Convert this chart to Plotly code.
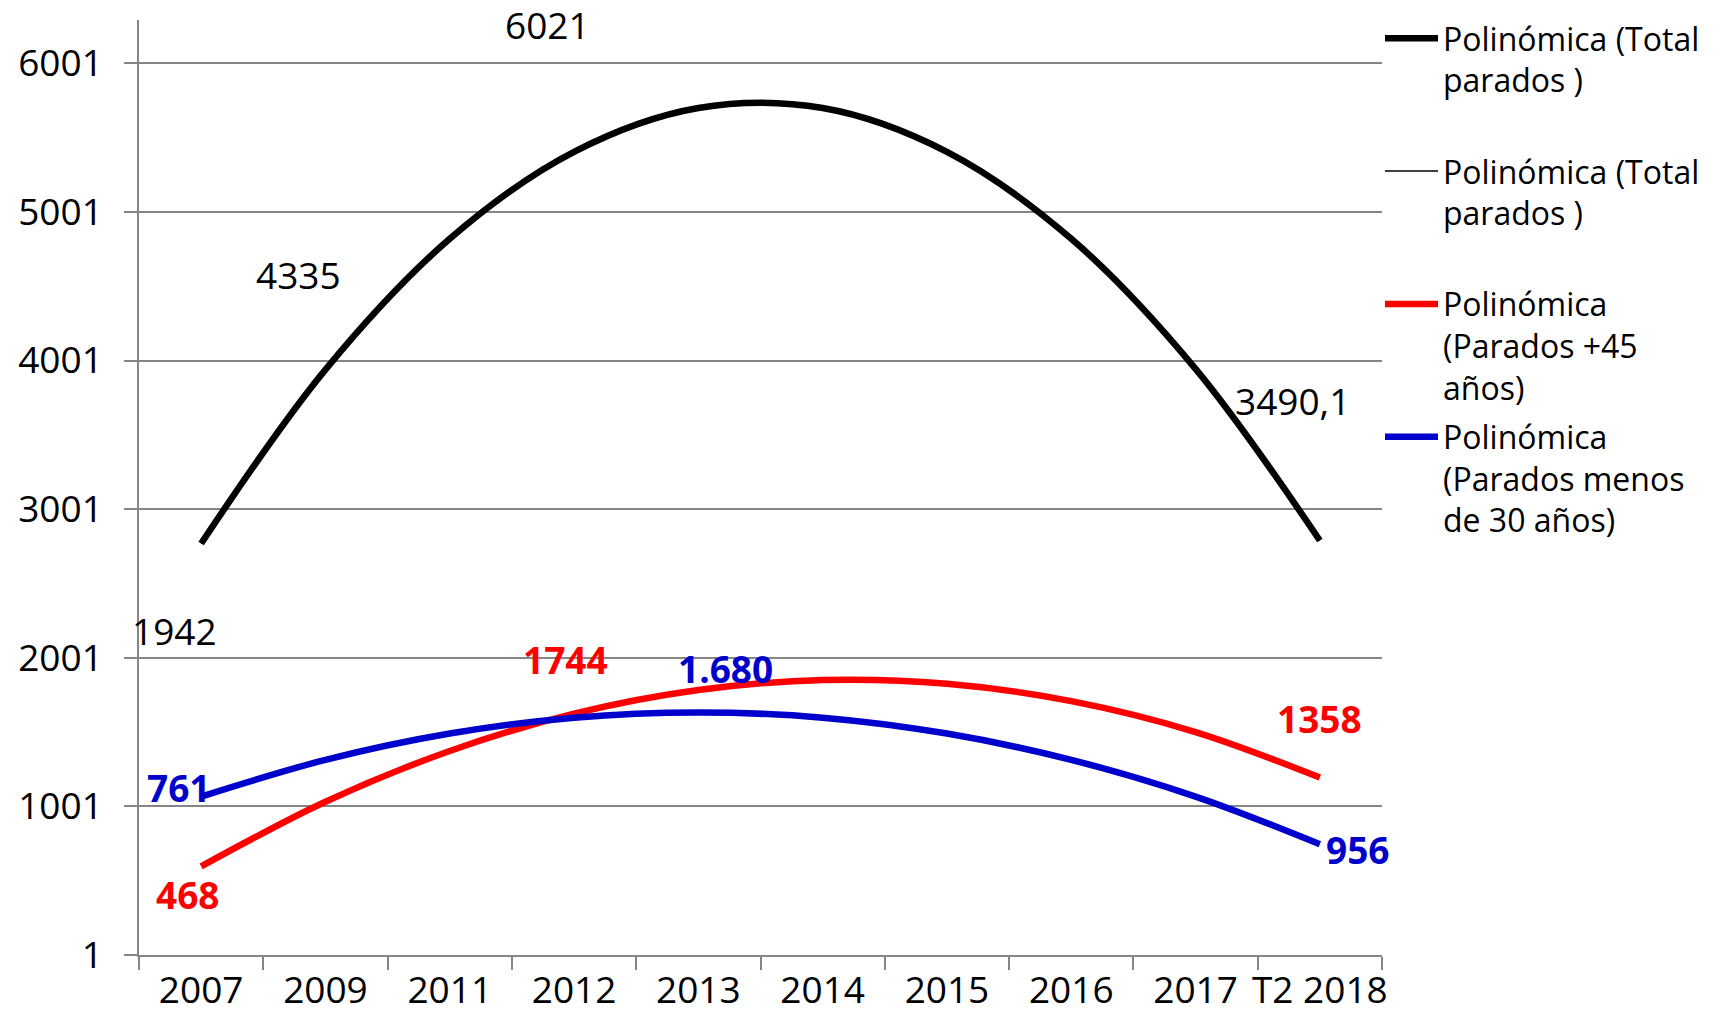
import plotly.graph_objects as go

categories = ["2007", "2009", "2011", "2012", "2013", "2014", "2015", "2016", "2017", "T2 2018"]

# polynomial trendlines
trend_total = [2770, 3940, 4820, 5405, 5700, 5700, 5405, 4820, 3945, 2790]
trend_mas45 = [597, 1032, 1374, 1625, 1784, 1851, 1826, 1709, 1501, 1195]
trend_menos30 = [1067, 1314, 1491, 1598, 1633, 1598, 1491, 1314, 1067, 746]

# data labels that are shown (the series markers themselves are hidden)
total_x = ["2007", "2009", "2012", "T2 2018"]
total_y = [1942, 4335, 6021, 3490.1]
total_txt = ["1942", "4335", "6021", "3490,1"]

mas45_x = ["2007", "2012", "T2 2018"]
mas45_y = [468, 1744, 1358]
mas45_txt = ["468", "1744", "1358"]

menos30_x = ["2007", "2013", "T2 2018"]
menos30_y = [761, 1680, 956]
menos30_txt = ["761", "1.680", "956"]

y_ticks = [1, 1001, 2001, 3001, 4001, 5001, 6001]

FONT = "Open Sans"
GRID = "#868686"
RED = "#ff0000"
BLUE = "#0000cc"

fig = go.Figure()

fig.add_trace(go.Scatter(x=categories, y=trend_total, mode="lines",
                         line=dict(color="black", width=6.5, shape="spline"),
                         name="Polinómica (Total<br>parados )<br> ", legendgroup="a",
                         hoverinfo="skip"))
fig.add_trace(go.Scatter(x=categories, y=trend_total, mode="lines",
                         line=dict(color="black", width=1.5, shape="spline"),
                         name="Polinómica (Total<br>parados )<br> ", legendgroup="b",
                         hoverinfo="skip"))
fig.add_trace(go.Scatter(x=categories, y=trend_mas45, mode="lines",
                         line=dict(color=RED, width=6.5, shape="spline"),
                         name="Polinómica<br>(Parados +45<br>años)", legendgroup="c",
                         hoverinfo="skip"))
fig.add_trace(go.Scatter(x=categories, y=trend_menos30, mode="lines",
                         line=dict(color=BLUE, width=6.5, shape="spline"),
                         name="Polinómica<br>(Parados menos<br>de 30 años)", legendgroup="d",
                         hoverinfo="skip"))

# label offsets (pixels) - placed by hand in the original
total_shift = [(-27, 36), (-27, 36), (-27, 36), (-27, 36)]
mas45_shift = [(-14, -9), (-9, 36), (0, 35)]
menos30_shift = [(-23, 55), (27, 37), (38, -36)]

for xs, ys, ts, sh, col, bold in [
    (total_x, total_y, total_txt, total_shift, "black", False),
    (mas45_x, mas45_y, mas45_txt, mas45_shift, RED, True),
    (menos30_x, menos30_y, menos30_txt, menos30_shift, BLUE, True),
]:
    for i in range(len(xs)):
        txt = "<b>" + ts[i] + "</b>" if bold else ts[i]
        # category axis: use the category index so "2007" isn't read as a number
        fig.add_annotation(x=categories.index(xs[i]), y=ys[i], text=txt, showarrow=False,
                           xshift=sh[i][0], yshift=sh[i][1],
                           font=dict(family=FONT, size=37, color=col))

fig.update_layout(
    width=1714, height=1017,
    margin=dict(l=139, r=332, t=20, b=62, autoexpand=False),
    paper_bgcolor="white", plot_bgcolor="white",
    font=dict(family=FONT, size=37, color="black"),
    legend=dict(x=1380 / 1714, xref="container", xanchor="left",
                y=1 - 11 / 1017, yref="container", yanchor="top",
                font=dict(family=FONT, size=32, color="black"),
                valign="top", bgcolor="rgba(0,0,0,0)", tracegroupgap=5,
                itemwidth=53, maxheight=1000),
    xaxis=dict(type="category", categoryorder="array", categoryarray=categories,
               range=[-0.5, 9.5], showgrid=False, zeroline=False,
               showline=True, linecolor=GRID, linewidth=1.5,
               ticks="outside", tickson="boundaries", ticklen=13, tickcolor=GRID, tickwidth=1.5,
               tickangle=0, ticklabelstandoff=2,
               tickfont=dict(family=FONT, size=37, color="black")),
    yaxis=dict(range=[1, 6292], tickvals=y_ticks, tickformat="d",
               showgrid=True, gridcolor=GRID, gridwidth=1.5, zeroline=False,
               showline=True, linecolor=GRID, linewidth=1.5,
               ticks="outside", ticklen=13, tickcolor=GRID, tickwidth=1.5,
               ticklabelstandoff=14,
               tickfont=dict(family=FONT, size=37, color="black")),
)

fig.write_html("out.html", config={"displayModeBar": False},
               post_script="document.body.style.margin='0';")
